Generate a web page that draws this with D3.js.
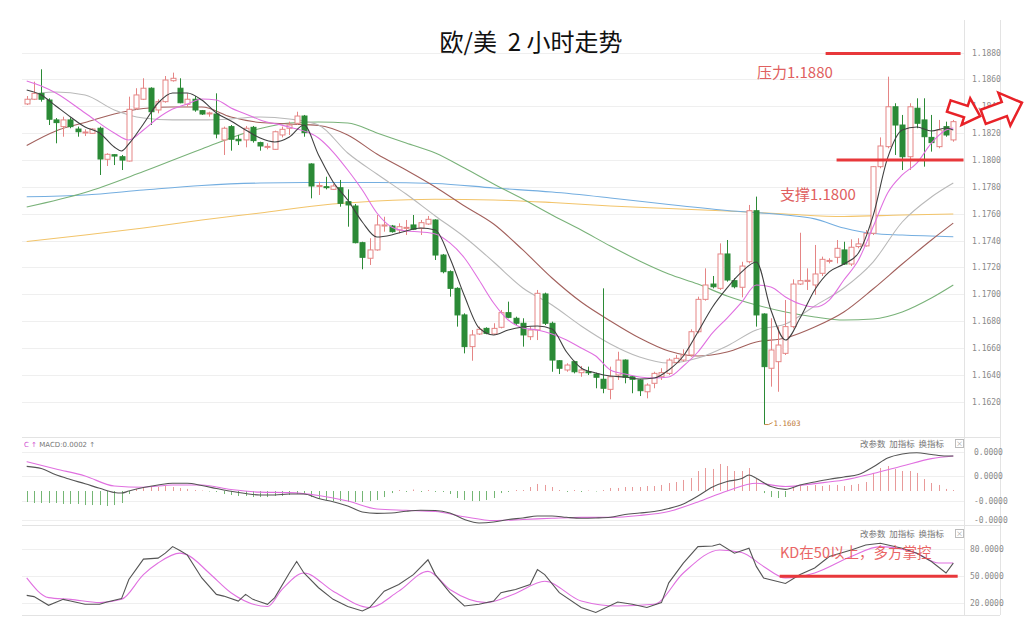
<!DOCTYPE html>
<html><head><meta charset="utf-8">
<script src="https://cdn.jsdelivr.net/npm/d3@7"></script>
<style>body{margin:0;background:#fff;}svg{display:block;font-family:"Noto Sans CJK SC","Noto Sans",sans-serif;}</style>
</head><body><svg id="c" width="1024" height="628"></svg>
<script>
// ---------------- DATA ----------------
const title = "欧/美  2 小时走势";
const candleOpen = [1.18417,1.18452,1.18496,1.18446,1.18298,1.18248,1.18298,1.18230,1.18204,1.18198,1.18236,1.18005,1.18039,1.18024,1.17992,1.18385,1.18452,1.18534,1.18372,1.18434,1.18590,1.18534,1.18414,1.18452,1.18367,1.18347,1.18342,1.18149,1.18248,1.18154,1.18149,1.18243,1.18129,1.18099,1.18079,1.18186,1.18236,1.18273,1.18327,1.17970,1.17806,1.17801,1.17781,1.17793,1.17689,1.17657,1.17384,1.17268,1.17330,1.17508,1.17508,1.17478,1.17493,1.17516,1.17491,1.17523,1.17553,1.17292,1.17168,1.17044,1.16846,1.16610,1.16704,1.16746,1.16704,1.16754,1.16863,1.16821,1.16784,1.16684,1.16734,1.17002,1.16784,1.16505,1.16436,1.16498,1.16416,1.16423,1.16406,1.16367,1.16292,1.16399,1.16510,1.16386,1.16362,1.16274,1.16337,1.16386,1.16411,1.16491,1.16510,1.16548,1.16721,1.16962,1.17076,1.17044,1.17300,1.17101,1.17052,1.17242,1.17622,1.16853,1.16449,1.16498,1.16560,1.16759,1.17076,1.17096,1.17069,1.17156,1.17250,1.17275,1.17330,1.17225,1.17355,1.17360,1.17454,1.17950,1.18099,1.18396,1.18260,1.18024,1.18385,1.18298,1.18168,1.18099,1.18248,1.18149];
const candleHigh = [1.18476,1.18583,1.18675,1.18459,1.18312,1.18322,1.18316,1.18248,1.18228,1.18235,1.18248,1.18050,1.18042,1.18037,1.18471,1.18534,1.18608,1.18541,1.18452,1.18625,1.18650,1.18608,1.18496,1.18476,1.18372,1.18359,1.18496,1.18248,1.18260,1.18186,1.18253,1.18253,1.18136,1.18124,1.18218,1.18248,1.18285,1.18359,1.18335,1.17975,1.17838,1.17875,1.17821,1.17851,1.17781,1.17672,1.17391,1.17417,1.17590,1.17577,1.17516,1.17528,1.17553,1.17590,1.17553,1.17583,1.17558,1.17300,1.17178,1.17052,1.16858,1.16734,1.16759,1.16754,1.16784,1.16883,1.16945,1.16833,1.16821,1.16759,1.17032,1.17012,1.16796,1.16510,1.16486,1.16505,1.16466,1.16461,1.16416,1.17044,1.16461,1.16572,1.16515,1.16391,1.16367,1.16337,1.16423,1.16449,1.16523,1.16548,1.16590,1.16739,1.16982,1.17193,1.17136,1.17379,1.17404,1.17119,1.17242,1.17665,1.17727,1.16858,1.16821,1.16759,1.16957,1.17111,1.17458,1.17193,1.17367,1.17280,1.17268,1.17404,1.17391,1.17409,1.17417,1.17478,1.17955,1.18168,1.18620,1.18422,1.18335,1.18422,1.18459,1.18459,1.18335,1.18298,1.18285,1.18298];
const candleLow = [1.18409,1.18446,1.18434,1.18260,1.18124,1.18173,1.18236,1.18173,1.18178,1.18193,1.17888,1.17955,1.17962,1.17925,1.17988,1.18372,1.18446,1.18260,1.18347,1.18426,1.18583,1.18422,1.18396,1.18359,1.18335,1.18322,1.18161,1.18037,1.18069,1.18111,1.18094,1.18129,1.18069,1.18079,1.18075,1.18168,1.18186,1.18260,1.18173,1.17714,1.17739,1.17781,1.17776,1.17652,1.17503,1.17379,1.17186,1.17218,1.17324,1.17466,1.17459,1.17454,1.17441,1.17478,1.17441,1.17516,1.17255,1.17156,1.16982,1.16759,1.16560,1.16505,1.16697,1.16702,1.16697,1.16746,1.16821,1.16771,1.16610,1.16659,1.16659,1.16771,1.16423,1.16406,1.16423,1.16411,1.16386,1.16399,1.16300,1.16263,1.16218,1.16362,1.16337,1.16263,1.16242,1.16225,1.16300,1.16362,1.16399,1.16486,1.16498,1.16535,1.16709,1.16952,1.17044,1.17032,1.17094,1.17044,1.16977,1.17230,1.16759,1.16030,1.16312,1.16274,1.16548,1.16746,1.17069,1.17032,1.16995,1.17136,1.17230,1.17230,1.17218,1.17210,1.17342,1.17355,1.17441,1.17938,1.18087,1.18037,1.17925,1.17925,1.18236,1.17950,1.18062,1.18087,1.18173,1.18136];
const candleClose = [1.18452,1.18496,1.18452,1.18303,1.18278,1.18298,1.18248,1.18210,1.18208,1.18230,1.18007,1.18042,1.18029,1.17999,1.18377,1.18484,1.18534,1.18359,1.18434,1.18595,1.18608,1.18426,1.18452,1.18372,1.18342,1.18350,1.18193,1.18236,1.18154,1.18143,1.18236,1.18144,1.18104,1.18101,1.18210,1.18228,1.18260,1.18327,1.18203,1.17806,1.17810,1.17796,1.17806,1.17677,1.17665,1.17384,1.17275,1.17330,1.17516,1.17516,1.17466,1.17503,1.17498,1.17484,1.17533,1.17558,1.17292,1.17168,1.17044,1.16846,1.16610,1.16697,1.16739,1.16709,1.16746,1.16863,1.16828,1.16784,1.16697,1.16734,1.17007,1.16784,1.16510,1.16449,1.16473,1.16423,1.16436,1.16420,1.16382,1.16300,1.16386,1.16510,1.16382,1.16367,1.16282,1.16324,1.16411,1.16416,1.16510,1.16523,1.16548,1.16721,1.16962,1.17069,1.17056,1.17300,1.17106,1.17056,1.17210,1.17622,1.16846,1.16461,1.16585,1.16622,1.16759,1.17076,1.17101,1.17104,1.17151,1.17260,1.17252,1.17342,1.17225,1.17350,1.17375,1.17454,1.17950,1.18104,1.18396,1.18260,1.18024,1.18396,1.18273,1.18173,1.18129,1.18223,1.18186,1.18285];

// moving averages (sampled at candle indices)
const ma5Idx = [0,2,4,6,8,10,12,13,14,16,18,20,22,24,26,28,30,32,34,36,38,40,42,44,46,48,50,52,54,56,58,60,62,64,66,68,70,72,74,76,78,80,82,84,86,88,90,92,94,96,98,100,102,104,106,108,110,112,114,116,118,120,122,124,126,127];
const ma5 = [1.18521,1.18484,1.18402,1.18320,1.18245,1.18201,1.18096,1.18067,1.18119,1.18268,1.18424,1.18499,1.18499,1.18446,1.18350,1.18290,1.18223,1.18163,1.18134,1.18171,1.18260,1.18037,1.17836,1.17702,1.17538,1.17426,1.17441,1.17471,1.17493,1.17478,1.17270,1.16987,1.16749,1.16697,1.16734,1.16756,1.16764,1.16741,1.16570,1.16451,1.16414,1.16391,1.16384,1.16369,1.16376,1.16436,1.16540,1.16719,1.16905,1.17047,1.17166,1.17240,1.16883,1.16659,1.16823,1.17032,1.17166,1.17225,1.17307,1.17583,1.18015,1.18223,1.18245,1.18216,1.18238,1.18223];
const ma10Idx = [0,2,4,8,12,14,16,18,20,22,24,26,28,30,32,36,40,42,44,46,48,50,52,54,56,58,60,62,64,66,68,70,72,74,76,78,80,82,84,86,88,90,92,94,96,98,100,102,104,106,108,110,112,114,116,118,120,122,124,126,127];
const ma10 = [1.18588,1.18551,1.18499,1.18350,1.18201,1.18149,1.18223,1.18312,1.18379,1.18417,1.18454,1.18446,1.18387,1.18342,1.18298,1.18245,1.18163,1.18059,1.17925,1.17776,1.17605,1.17501,1.17471,1.17464,1.17449,1.17382,1.17270,1.17106,1.16935,1.16808,1.16749,1.16734,1.16704,1.16659,1.16600,1.16540,1.16436,1.16406,1.16384,1.16376,1.16384,1.16466,1.16570,1.16712,1.16823,1.16942,1.17069,1.17054,1.16980,1.16927,1.16905,1.16957,1.17106,1.17255,1.17501,1.17754,1.17888,1.17977,1.18126,1.18223,1.18238];
const ma20Idx = [0,2,4,8,12,16,20,24,28,32,36,40,44,48,52,56,60,64,68,72,76,80,84,88,92,96,100,104,108,112,116,120,124,127];
const ma20 = [1.18424,1.18499,1.18506,1.18484,1.18372,1.18312,1.18298,1.18298,1.18305,1.18320,1.18305,1.18260,1.18052,1.17895,1.17746,1.17583,1.17426,1.17240,1.17047,1.16920,1.16764,1.16630,1.16533,1.16488,1.16525,1.16615,1.16734,1.16778,1.16913,1.17047,1.17240,1.17538,1.17724,1.17828];
const ma30Idx = [0,4,8,12,16,20,24,28,32,36,40,44,48,52,56,60,64,68,72,76,80,84,88,92,96,100,104,108,112,116,120,124,127];
const ma30 = [1.18108,1.18216,1.18279,1.18342,1.18383,1.18394,1.18394,1.18320,1.18279,1.18268,1.18257,1.18186,1.18044,1.17925,1.17799,1.17657,1.17523,1.17330,1.17121,1.16942,1.16801,1.16674,1.16577,1.16540,1.16570,1.16644,1.16674,1.16756,1.16868,1.17039,1.17225,1.17404,1.17530];
const ma60Idx = [0,8,16,24,32,36,40,44,48,52,56,60,64,68,72,76,80,84,88,92,96,100,104,108,112,116,120,124,127];
const ma60 = [1.17650,1.17758,1.17914,1.18082,1.18234,1.18275,1.18283,1.18275,1.18201,1.18126,1.18052,1.17940,1.17821,1.17709,1.17590,1.17478,1.17359,1.17248,1.17151,1.17076,1.16987,1.16920,1.16868,1.16831,1.16808,1.16816,1.16868,1.16972,1.17069];
const ma120Idx = [0,8,16,24,32,40,48,56,64,72,80,88,96,104,108,112,116,120,127];
const ma120 = [1.17726,1.17739,1.17776,1.17810,1.17828,1.17832,1.17832,1.17825,1.17791,1.17761,1.17717,1.17668,1.17624,1.17590,1.17561,1.17493,1.17452,1.17441,1.17428];
const ma250Idx = [0,8,16,24,32,40,48,56,64,72,80,88,96,104,112,120,127];
const ma250 = [1.17393,1.17441,1.17493,1.17553,1.17605,1.17661,1.17694,1.17707,1.17702,1.17683,1.17657,1.17638,1.17620,1.17597,1.17579,1.17590,1.17597];

const priceTicks = [1.1620,1.1640,1.1660,1.1680,1.1700,1.1720,1.1740,1.1760,1.1780,1.1800,1.1820,1.1840,1.1860,1.1880];
const resistance = 1.1880, support = 1.1800, lowMark = 1.1603, lowMarkIdx = 101;

// MACD (values in units of 1e-5)
const MACD_UNIT = 1e-5;
const difIdx = [0,2,4,6,8,10,12,13,14,16,18,20,22,24,26,28,30,32,34,36,38,40,42,44,46,48,50,52,54,56,58,60,62,64,66,68,70,72,74,76,78,80,82,84,86,88,90,92,94,96,98,99,100,102,104,106,108,110,112,114,116,118,120,122,124,126,127];
const dif = [2.53,2.31,1.66,1.18,0.74,0.28,-0.15,-0.21,0,0.36,0.62,0.79,0.79,0.56,0.26,-0.03,-0.26,-0.41,-0.41,-0.31,-0.31,-0.77,-1.10,-1.54,-2.15,-2.29,-2.26,-2.08,-1.98,-2.00,-2.26,-2.92,-3.28,-3.18,-2.92,-2.77,-2.56,-2.56,-2.70,-2.80,-2.77,-2.70,-2.41,-2.26,-2.10,-1.79,-1.33,-0.51,0.41,0.97,1.28,1.64,1.30,0.46,0.17,0.62,0.92,1.20,1.44,1.69,2.46,3.38,3.79,3.93,3.74,3.59,3.59];
const deaIdx = [0,4,8,12,16,20,24,28,32,36,40,44,48,52,56,60,64,68,72,76,80,84,88,92,96,100,104,108,112,116,120,124,127];
const dea = [3.01,2.26,1.54,0.51,0.39,0.62,0.62,0.15,-0.12,-0.17,-0.46,-1.03,-1.85,-1.98,-2.10,-2.64,-3.03,-2.92,-2.79,-2.70,-2.70,-2.51,-2.10,-1.13,0,0.79,0.46,0.76,1.13,1.79,2.56,3.32,3.59];
const macdHist = [-1.13,-1.23,-1.23,-1.23,-1.23,-1.33,-1.33,-1.33,-1.44,-1.44,-1.44,-1.54,-1.44,-1.23,-0.31,0.21,0.31,0.41,0.41,0.51,0.41,0.31,0.21,0.10,0.05,-0.05,-0.10,-0.31,-0.41,-0.51,-0.51,-0.62,-0.62,-0.62,-0.51,-0.51,-0.41,-0.31,-0.21,-0.62,-0.82,-0.92,-1.03,-1.03,-1.13,-1.13,-1.13,-1.03,-0.92,-0.62,-0.21,0.10,-0.10,0.15,-0.10,0.10,-0.10,-0.10,-0.31,-0.72,-0.92,-1.03,-1.03,-0.92,-0.72,-0.21,-0.10,0.10,0.10,0.41,0.72,0.62,0.41,0.10,-0.10,0.10,-0.10,0.05,-0.05,0.10,0.31,0.31,0.41,0.41,0.41,0.51,0.51,0.62,0.82,0.92,1.13,1.33,2.05,2.36,2.26,2.77,2.56,2.05,2.05,2.36,1.23,-0.21,-0.62,-0.72,-0.62,0.41,0.51,0.51,0.62,0.51,0.62,0.62,0.51,0.62,0.72,0.92,1.85,2.36,2.56,2.26,2.05,2.05,1.85,1.23,0.82,0.62,0.21,0.10];
const macdTicks = [4e-5,1.5e-5,-1e-5,-3e-5];

// KD
const kIdx = [0,1,3,5,6,8,10,11,13,14,16,18,19,20,21,22,24,26,27,29,30,31,33,34,36,37,38,40,42,44,46,47,49,51,53,55,56,58,60,62,64,65,67,69,70,71,73,76,78,81,83,85,87,88,90,92,94,95,97,99,100,101,104,106,108,110,113,115,117,120,122,124,126,127];
const kVal = [28.8,27.4,17.8,24.4,22.5,18.9,18.9,21.4,25.2,46.4,69.1,70.2,75.7,83,78.6,73.8,48.2,29.9,28,22.5,29.9,24.4,18.9,26.3,53.7,66.5,53.7,37.3,24.4,16.4,11.5,15.3,33.5,40.9,51.9,68.4,51.9,31.8,17,18.9,22.5,31.8,35.4,40.9,57.4,51.9,31.8,15.3,9.8,21.4,18.9,15.3,20.8,42.7,64.7,83,83.7,85.9,75.7,81.2,61,48.2,42,51.9,59.2,72,79.3,84.8,86.7,81.2,75.7,66.5,53.7,64.7];
const dIdx = [0,3,6,10,13,16,18,21,22,25,28,33,35,38,42,47,51,55,58,63,67,71,76,81,86,90,95,98,101,104,108,113,117,122,125,127];
const dVal = [48.2,26.3,24.4,20.8,24.4,51.9,64.7,75.7,73.8,53.7,31.8,16.4,35.4,53.7,33.5,15.3,33.5,55.5,35.4,20.8,31,44.5,22.5,17,18.9,53.7,79.3,76.4,61,48.2,53.7,72,83,75.7,64.7,64.7];
const kdTicks = [80,50,20];
const kdLevel = 50;

// ---------------- DRAW ----------------
const svg = d3.select('#c');
svg.append('rect').attr('width',1024).attr('height',628).attr('fill','#fff');
const N = candleOpen.length;
const x = d3.scaleLinear().domain([0, N-1]).range([26.7, 953.3]);
const yMain = d3.scaleLinear().domain([1.1620, 1.1880]).range([401.7, 52.5]);
const yMacd = d3.scaleLinear().domain([-3e-5, 4e-5]).range([520.25, 452]);
const yKd = d3.scaleLinear().domain([20, 80]).range([603.3, 549.3]);

const PL = 22, PR = 964, AX = 1000;
const gridC = '#efefef', borderC = '#e3e3e3';

// panel borders
[[437],[525],[615]].forEach(([yy]) => svg.append('line').attr('x1',PL).attr('x2',AX).attr('y1',yy+0.5).attr('y2',yy+0.5).attr('stroke',borderC));
[PR, AX].forEach(xx => svg.append('line').attr('x1',xx+0.5).attr('x2',xx+0.5).attr('y1',20).attr('y2',615).attr('stroke',borderC));

// grids
priceTicks.forEach(t => svg.append('line').attr('x1',PL).attr('x2',PR).attr('y1',Math.round(yMain(t))+0.5).attr('y2',Math.round(yMain(t))+0.5).attr('stroke',gridC));
macdTicks.forEach(t => svg.append('line').attr('x1',PL).attr('x2',PR).attr('y1',Math.round(yMacd(t))+0.5).attr('y2',Math.round(yMacd(t))+0.5).attr('stroke',gridC));
kdTicks.forEach(t => svg.append('line').attr('x1',PL).attr('x2',PR).attr('y1',Math.round(yKd(t))+0.5).attr('y2',Math.round(yKd(t))+0.5).attr('stroke',gridC));

// axes
function rightAxis(scale, ticks, fmt, xpos){
  const g = svg.append('g').attr('transform',`translate(${xpos},0)`)
    .call(d3.axisRight(scale).tickValues(ticks).tickFormat(fmt).tickSize(0).tickPadding(0));
  g.select('.domain').remove();
  g.selectAll('text').attr('fill','#8a8a8a').attr('font-size','8px').attr('font-family','"DejaVu Sans Mono",monospace');
}
rightAxis(yMain, priceTicks, d => d.toFixed(4), 972);
rightAxis(yMacd, macdTicks, d => d.toFixed(4), 974);
rightAxis(yKd, kdTicks, d => d.toFixed(4), 970);

// clip for main
svg.append('clipPath').attr('id','mainClip').append('rect').attr('x',PL).attr('y',22).attr('width',PR-PL).attr('height',412);
const main = svg.append('g').attr('clip-path','url(#mainClip)');

// MAs
const maDefs = [
  [ma250Idx, ma250, '#f2c46a'],
  [ma120Idx, ma120, '#74aee0'],
  [ma60Idx, ma60, '#79b279'],
  [ma30Idx, ma30, '#a2605c'],
  [ma20Idx, ma20, '#b9b9b9'],
];
const lineMain = d3.line().x(d => x(d[0])).y(d => yMain(d[1])).curve(d3.curveMonotoneX);
maDefs.forEach(([ix, v, c]) => {
  main.append('path').datum(ix.map((i,k)=>[i,v[k]])).attr('d',lineMain).attr('fill','none').attr('stroke',c).attr('stroke-width',1.1);
});

// candles
const upC = '#e58585', dnC = '#2b8a36';
for (let i = 0; i < N; i++) {
  const o = candleOpen[i], c = candleClose[i], h = candleHigh[i], l = candleLow[i];
  const up = c >= o;
  const cx = Math.round(x(i)) + 0.5;
  main.append('line').attr('x1',cx).attr('x2',cx).attr('y1',yMain(h)).attr('y2',yMain(l)).attr('stroke', up?upC:dnC).attr('stroke-width',1);
  const yt = yMain(Math.max(o,c)), yb = yMain(Math.min(o,c));
  const hgt = Math.max(1, yb-yt);
  main.append('rect').attr('x',cx-2.5).attr('y',yt).attr('width',5).attr('height',hgt)
    .attr('fill', up?'#fff':dnC).attr('stroke', up?upC:dnC).attr('stroke-width',1);
}

// short MAs on top
[[ma10Idx, ma10, '#e070e0'], [ma5Idx, ma5, '#404040']].forEach(([ix, v, c]) => {
  main.append('path').datum(ix.map((i,k)=>[i,v[k]])).attr('d',lineMain).attr('fill','none').attr('stroke',c).attr('stroke-width',1.1);
});

// low mark label
const lx = Math.round(x(lowMarkIdx))+0.5, ly = yMain(lowMark);
svg.append('path').attr('d',`M${lx},${ly} L${lx+4},${ly} L${lx+8},${ly-2}`).attr('stroke','#c98a4a').attr('fill','none');
svg.append('text').attr('x',lx+9).attr('y',ly+1).attr('font-size','7.5px').attr('font-family','"DejaVu Sans Mono",monospace').attr('fill','#c07a3a').text(lowMark.toFixed(4));

// resistance/support
const redC = '#e8383b';
svg.append('line').attr('x1',x(109.5)).attr('x2',x(128)).attr('y1',yMain(resistance)+1).attr('y2',yMain(resistance)+1).attr('stroke',redC).attr('stroke-width',3);
svg.append('line').attr('x1',x(111)).attr('x2',x(128.4)).attr('y1',yMain(support)).attr('y2',yMain(support)).attr('stroke',redC).attr('stroke-width',3);
svg.append('text').attr('x',757).attr('y',78).attr('font-size','15px').attr('fill','#e06060').text('压力' + resistance.toFixed(4));
svg.append('text').attr('x',780).attr('y',200).attr('font-size','15px').attr('fill','#e06060').text('支撑' + support.toFixed(4));

// arrows
const arrowPts = [[-16,-6],[2,-6],[2,-14],[17,0],[2,14],[2,6],[-16,6]];
function arrow(tx,ty,rot,sc){
  svg.append('polygon').attr('points', arrowPts.map(p=>p.join(',')).join(' '))
    .attr('transform',`translate(${tx},${ty}) rotate(${rot}) scale(${sc})`)
    .attr('fill','#fff').attr('stroke','#e82228').attr('stroke-width',2.5/sc).attr('stroke-linejoin','miter');
}
arrow(964,111,18,1);
arrow(1002,110,-20,1.25);

// title
svg.append('text').attr('x',531).attr('y',51).attr('text-anchor','middle').attr('font-size','24px').attr('fill','#111')
  .style('white-space','pre').attr('xml:space','preserve').text(title);

// MACD panel
const lineM = d3.line().x(d => x(d[0])).y(d => yMacd(d[1]*MACD_UNIT)).curve(d3.curveMonotoneX);
const z0 = yMacd(0);
macdHist.forEach((v,i) => {
  const cx = Math.round(x(i))+0.5;
  svg.append('line').attr('x1',cx).attr('x2',cx).attr('y1',z0).attr('y2',yMacd(v*MACD_UNIT))
    .attr('stroke', v>=0 ? '#e89a9a' : '#74b674').attr('stroke-width',1);
});
svg.append('path').datum(deaIdx.map((i,k)=>[i,dea[k]])).attr('d',lineM).attr('fill','none').attr('stroke','#e070e0').attr('stroke-width',1.1);
svg.append('path').datum(difIdx.map((i,k)=>[i,dif[k]])).attr('d',lineM).attr('fill','none').attr('stroke','#555').attr('stroke-width',1.1);

const hdr = svg.append('text').attr('x',24).attr('y',447).attr('font-size','7px').attr('font-family','"DejaVu Sans",sans-serif');
hdr.append('tspan').attr('fill','#d050d0').text('C ↑ ');
hdr.append('tspan').attr('fill','#777').text('MACD:0.0002 ↑');

function toolbar(yy){
  svg.append('text').attr('x',860).attr('y',yy).attr('font-size','8.5px').attr('fill','#777').style('white-space','pre').text('改参数  加指标  换指标');
  svg.append('rect').attr('x',955.5).attr('y',yy-7.5).attr('width',8).attr('height',8).attr('fill','#fff').attr('stroke','#bbb');
  svg.append('text').attr('x',959.5).attr('y',yy-1).attr('text-anchor','middle').attr('font-size','7px').attr('fill','#999').text('×');
}
toolbar(447);
toolbar(537);

// KD panel
const lineK = d3.line().x(d => x(d[0])).y(d => yKd(d[1]));
svg.append('path').datum(dIdx.map((i,k)=>[i,dVal[k]])).attr('d',lineK.curve(d3.curveMonotoneX)).attr('fill','none').attr('stroke','#e070e0').attr('stroke-width',1.1);
svg.append('path').datum(kIdx.map((i,k)=>[i,kVal[k]])).attr('d',d3.line().x(d => x(d[0])).y(d => yKd(d[1]))).attr('fill','none').attr('stroke','#555').attr('stroke-width',1.1);
svg.append('line').attr('x1',x(103.2)).attr('x2',x(127.6)).attr('y1',yKd(kdLevel)).attr('y2',yKd(kdLevel)).attr('stroke',redC).attr('stroke-width',3);
svg.append('text').attr('x',780).attr('y',558).attr('font-size','14.5px').attr('fill','#e85555').attr('opacity',0.9).text('KD在50以上，多方掌控');
</script></body></html>
